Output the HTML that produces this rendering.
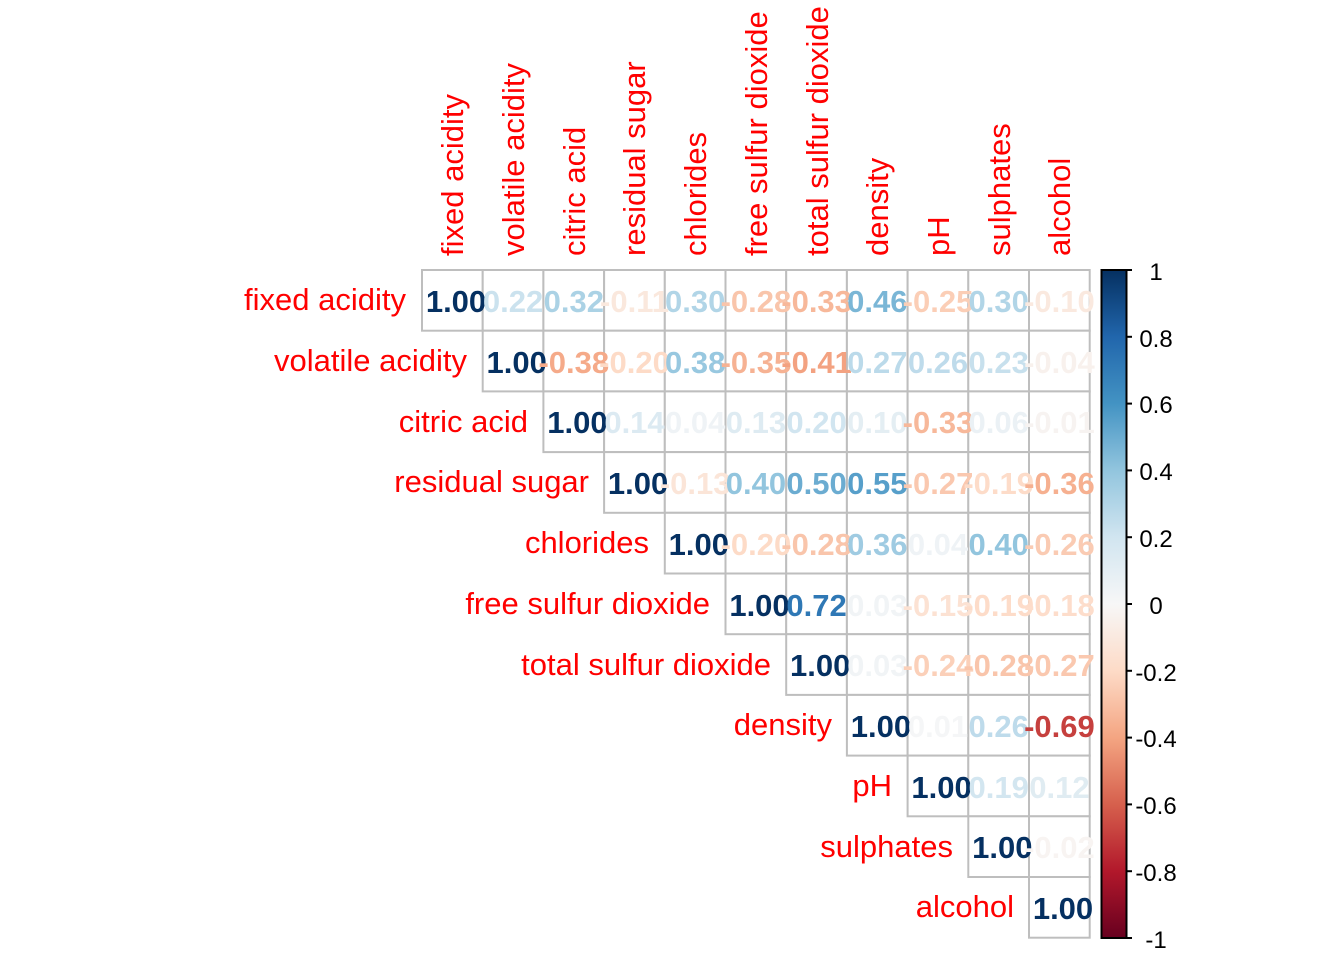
<!DOCTYPE html>
<html><head><meta charset="utf-8"><style>
html,body{margin:0;padding:0;background:#fff;}
svg{display:block;}
.lab{font-family:"Liberation Sans",sans-serif;font-size:31px;fill:#FF0000;}
.num{font-family:"Liberation Sans",sans-serif;font-size:31px;font-weight:bold;text-anchor:middle;}
.cb{font-family:"Liberation Sans",sans-serif;font-size:24px;fill:#000;text-anchor:middle;}
rect.c{fill:#fff;stroke:#BEBEBE;stroke-width:2;}
</style></head><body>
<svg width="1344" height="960" viewBox="0 0 1344 960" xmlns="http://www.w3.org/2000/svg">
<defs>
<clipPath id="clp"><rect x="0" y="0" width="1097" height="960"/></clipPath>
<linearGradient id="g" x1="0" y1="0" x2="0" y2="1">
<stop offset="0" stop-color="#053061"/>
<stop offset="0.1" stop-color="#2166AC"/>
<stop offset="0.2" stop-color="#4393C3"/>
<stop offset="0.3" stop-color="#92C5DE"/>
<stop offset="0.4" stop-color="#D1E5F0"/>
<stop offset="0.5" stop-color="#F7F7F7"/>
<stop offset="0.6" stop-color="#FDDBC7"/>
<stop offset="0.7" stop-color="#F4A582"/>
<stop offset="0.8" stop-color="#D6604D"/>
<stop offset="0.9" stop-color="#B2182B"/>
<stop offset="1" stop-color="#67001F"/>
</linearGradient>
</defs>
<g>
<rect class="c" x="422" y="270" width="60.7" height="60.7"/><rect class="c" x="482.7" y="270" width="60.7" height="60.7"/><rect class="c" x="543.4" y="270" width="60.7" height="60.7"/><rect class="c" x="604.1" y="270" width="60.7" height="60.7"/><rect class="c" x="664.8" y="270" width="60.7" height="60.7"/><rect class="c" x="725.5" y="270" width="60.7" height="60.7"/><rect class="c" x="786.2" y="270" width="60.7" height="60.7"/><rect class="c" x="846.9" y="270" width="60.7" height="60.7"/><rect class="c" x="907.6" y="270" width="60.7" height="60.7"/><rect class="c" x="968.3" y="270" width="60.7" height="60.7"/><rect class="c" x="1029" y="270" width="60.7" height="60.7"/>
<rect class="c" x="482.7" y="330.7" width="60.7" height="60.7"/><rect class="c" x="543.4" y="330.7" width="60.7" height="60.7"/><rect class="c" x="604.1" y="330.7" width="60.7" height="60.7"/><rect class="c" x="664.8" y="330.7" width="60.7" height="60.7"/><rect class="c" x="725.5" y="330.7" width="60.7" height="60.7"/><rect class="c" x="786.2" y="330.7" width="60.7" height="60.7"/><rect class="c" x="846.9" y="330.7" width="60.7" height="60.7"/><rect class="c" x="907.6" y="330.7" width="60.7" height="60.7"/><rect class="c" x="968.3" y="330.7" width="60.7" height="60.7"/><rect class="c" x="1029" y="330.7" width="60.7" height="60.7"/>
<rect class="c" x="543.4" y="391.4" width="60.7" height="60.7"/><rect class="c" x="604.1" y="391.4" width="60.7" height="60.7"/><rect class="c" x="664.8" y="391.4" width="60.7" height="60.7"/><rect class="c" x="725.5" y="391.4" width="60.7" height="60.7"/><rect class="c" x="786.2" y="391.4" width="60.7" height="60.7"/><rect class="c" x="846.9" y="391.4" width="60.7" height="60.7"/><rect class="c" x="907.6" y="391.4" width="60.7" height="60.7"/><rect class="c" x="968.3" y="391.4" width="60.7" height="60.7"/><rect class="c" x="1029" y="391.4" width="60.7" height="60.7"/>
<rect class="c" x="604.1" y="452.1" width="60.7" height="60.7"/><rect class="c" x="664.8" y="452.1" width="60.7" height="60.7"/><rect class="c" x="725.5" y="452.1" width="60.7" height="60.7"/><rect class="c" x="786.2" y="452.1" width="60.7" height="60.7"/><rect class="c" x="846.9" y="452.1" width="60.7" height="60.7"/><rect class="c" x="907.6" y="452.1" width="60.7" height="60.7"/><rect class="c" x="968.3" y="452.1" width="60.7" height="60.7"/><rect class="c" x="1029" y="452.1" width="60.7" height="60.7"/>
<rect class="c" x="664.8" y="512.8" width="60.7" height="60.7"/><rect class="c" x="725.5" y="512.8" width="60.7" height="60.7"/><rect class="c" x="786.2" y="512.8" width="60.7" height="60.7"/><rect class="c" x="846.9" y="512.8" width="60.7" height="60.7"/><rect class="c" x="907.6" y="512.8" width="60.7" height="60.7"/><rect class="c" x="968.3" y="512.8" width="60.7" height="60.7"/><rect class="c" x="1029" y="512.8" width="60.7" height="60.7"/>
<rect class="c" x="725.5" y="573.5" width="60.7" height="60.7"/><rect class="c" x="786.2" y="573.5" width="60.7" height="60.7"/><rect class="c" x="846.9" y="573.5" width="60.7" height="60.7"/><rect class="c" x="907.6" y="573.5" width="60.7" height="60.7"/><rect class="c" x="968.3" y="573.5" width="60.7" height="60.7"/><rect class="c" x="1029" y="573.5" width="60.7" height="60.7"/>
<rect class="c" x="786.2" y="634.2" width="60.7" height="60.7"/><rect class="c" x="846.9" y="634.2" width="60.7" height="60.7"/><rect class="c" x="907.6" y="634.2" width="60.7" height="60.7"/><rect class="c" x="968.3" y="634.2" width="60.7" height="60.7"/><rect class="c" x="1029" y="634.2" width="60.7" height="60.7"/>
<rect class="c" x="846.9" y="694.9" width="60.7" height="60.7"/><rect class="c" x="907.6" y="694.9" width="60.7" height="60.7"/><rect class="c" x="968.3" y="694.9" width="60.7" height="60.7"/><rect class="c" x="1029" y="694.9" width="60.7" height="60.7"/>
<rect class="c" x="907.6" y="755.6" width="60.7" height="60.7"/><rect class="c" x="968.3" y="755.6" width="60.7" height="60.7"/><rect class="c" x="1029" y="755.6" width="60.7" height="60.7"/>
<rect class="c" x="968.3" y="816.3" width="60.7" height="60.7"/><rect class="c" x="1029" y="816.3" width="60.7" height="60.7"/>
<rect class="c" x="1029" y="877" width="60.7" height="60.7"/>
</g>
<g class="lab" text-anchor="end">
<text x="406" y="310">fixed acidity</text>
<text x="467" y="371">volatile acidity</text>
<text x="528" y="432">citric acid</text>
<text x="589" y="492">residual sugar</text>
<text x="649" y="553">chlorides</text>
<text x="710" y="614">free sulfur dioxide</text>
<text x="771" y="675">total sulfur dioxide</text>
<text x="832" y="735">density</text>
<text x="892" y="796">pH</text>
<text x="953" y="857">sulphates</text>
<text x="1014" y="917">alcohol</text>
</g>
<g class="lab">
<text transform="translate(463,256) rotate(-90)">fixed acidity</text>
<text transform="translate(524,256) rotate(-90)">volatile acidity</text>
<text transform="translate(585,256) rotate(-90)">citric acid</text>
<text transform="translate(645,256) rotate(-90)">residual sugar</text>
<text transform="translate(706,256) rotate(-90)">chlorides</text>
<text transform="translate(767,256) rotate(-90)">free sulfur dioxide</text>
<text transform="translate(828,256) rotate(-90)">total sulfur dioxide</text>
<text transform="translate(888,256) rotate(-90)">density</text>
<text transform="translate(949,256) rotate(-90)">pH</text>
<text transform="translate(1010,256) rotate(-90)">sulphates</text>
<text transform="translate(1070,256) rotate(-90)">alcohol</text>
</g>
<g class="num" clip-path="url(#clp)">
<text x="456" y="312" fill="#053061">1.00</text><text x="513.1" y="312" fill="#CBE2EE">0.22</text><text x="573.8" y="312" fill="#ABD2E5">0.32</text><text x="634.5" y="312" fill="#FAE8DD">-0.11</text><text x="695.2" y="312" fill="#B1D5E7">0.30</text><text x="755.9" y="312" fill="#F9C5AB">-0.28</text><text x="816.6" y="312" fill="#F7B89A">-0.33</text><text x="877.3" y="312" fill="#7AB6D6">0.46</text><text x="938" y="312" fill="#FBCEB6">-0.25</text><text x="998.7" y="312" fill="#B1D5E7">0.30</text><text x="1059.4" y="312" fill="#FAE9DF">-0.10</text>
<text x="516.7" y="373" fill="#053061">1.00</text><text x="573.8" y="373" fill="#F5AA89">-0.38</text><text x="634.5" y="373" fill="#FDDBC7">-0.20</text><text x="695.2" y="373" fill="#98C8E0">0.38</text><text x="755.9" y="373" fill="#F6B293">-0.35</text><text x="816.6" y="373" fill="#F3A281">-0.41</text><text x="877.3" y="373" fill="#BBDAEA">0.27</text><text x="938" y="373" fill="#BEDBEB">0.26</text><text x="998.7" y="373" fill="#C7E0ED">0.23</text><text x="1059.4" y="373" fill="#F8F1ED">-0.04</text>
<text x="577.4" y="433" fill="#053061">1.00</text><text x="634.5" y="433" fill="#DCEAF2">0.14</text><text x="695.2" y="433" fill="#EFF3F6">0.04</text><text x="755.9" y="433" fill="#DEEBF2">0.13</text><text x="816.6" y="433" fill="#D1E5F0">0.20</text><text x="877.3" y="433" fill="#E4EEF3">0.10</text><text x="938" y="433" fill="#F7B89A">-0.33</text><text x="998.7" y="433" fill="#EBF1F5">0.06</text><text x="1059.4" y="433" fill="#F7F3F1">-0.01</text>
<text x="638.1" y="494" fill="#053061">1.00</text><text x="695.2" y="494" fill="#FBE5D8">-0.13</text><text x="755.9" y="494" fill="#92C5DE">0.40</text><text x="816.6" y="494" fill="#6BACD1">0.50</text><text x="877.3" y="494" fill="#579FCA">0.55</text><text x="938" y="494" fill="#FAC8AF">-0.27</text><text x="998.7" y="494" fill="#FDDCC9">-0.19</text><text x="1059.4" y="494" fill="#F6B090">-0.36</text>
<text x="698.8" y="555" fill="#053061">1.00</text><text x="755.9" y="555" fill="#FDDBC7">-0.20</text><text x="816.6" y="555" fill="#F9C5AB">-0.28</text><text x="877.3" y="555" fill="#9FCBE2">0.36</text><text x="938" y="555" fill="#EFF3F6">0.04</text><text x="998.7" y="555" fill="#92C5DE">0.40</text><text x="1059.4" y="555" fill="#FACBB3">-0.26</text>
<text x="759.5" y="616" fill="#053061">1.00</text><text x="816.6" y="616" fill="#2F78B5">0.72</text><text x="877.3" y="616" fill="#F1F4F6">0.03</text><text x="938" y="616" fill="#FCE2D3">-0.15</text><text x="998.7" y="616" fill="#FDDCC9">-0.19</text><text x="1059.4" y="616" fill="#FDDDCB">-0.18</text>
<text x="820.2" y="676" fill="#053061">1.00</text><text x="877.3" y="676" fill="#F1F4F6">0.03</text><text x="938" y="676" fill="#FBD0B9">-0.24</text><text x="998.7" y="676" fill="#F9C5AB">-0.28</text><text x="1059.4" y="676" fill="#FAC8AF">-0.27</text>
<text x="880.9" y="737" fill="#053061">1.00</text><text x="938" y="737" fill="#F5F6F7">0.01</text><text x="998.7" y="737" fill="#BEDBEB">0.26</text><text x="1059.4" y="737" fill="#C6403E">-0.69</text>
<text x="941.6" y="798" fill="#053061">1.00</text><text x="998.7" y="798" fill="#D3E6F0">0.19</text><text x="1059.4" y="798" fill="#E0ECF2">0.12</text>
<text x="1002.3" y="858" fill="#053061">1.00</text><text x="1059.4" y="858" fill="#F8F4F2">-0.02</text>
<text x="1063" y="919" fill="#053061">1.00</text>
</g>
<rect x="1101.5" y="270" width="25" height="668" fill="url(#g)" stroke="#000" stroke-width="2"/>
<g stroke="#000" stroke-width="2">
<line x1="1126" y1="270" x2="1132" y2="270"/><line x1="1126" y1="336.8" x2="1132" y2="336.8"/><line x1="1126" y1="403.6" x2="1132" y2="403.6"/><line x1="1126" y1="470.4" x2="1132" y2="470.4"/><line x1="1126" y1="537.2" x2="1132" y2="537.2"/><line x1="1126" y1="604" x2="1132" y2="604"/><line x1="1126" y1="670.8" x2="1132" y2="670.8"/><line x1="1126" y1="737.6" x2="1132" y2="737.6"/><line x1="1126" y1="804.4" x2="1132" y2="804.4"/><line x1="1126" y1="871.2" x2="1132" y2="871.2"/><line x1="1126" y1="938" x2="1132" y2="938"/>
</g>
<g class="cb">
<text x="1156" y="280">1</text>
<text x="1156" y="347">0.8</text>
<text x="1156" y="413">0.6</text>
<text x="1156" y="480">0.4</text>
<text x="1156" y="547">0.2</text>
<text x="1156" y="614">0</text>
<text x="1156" y="681">-0.2</text>
<text x="1156" y="747">-0.4</text>
<text x="1156" y="814">-0.6</text>
<text x="1156" y="881">-0.8</text>
<text x="1156" y="948">-1</text>
</g>
</svg>
</body></html>
